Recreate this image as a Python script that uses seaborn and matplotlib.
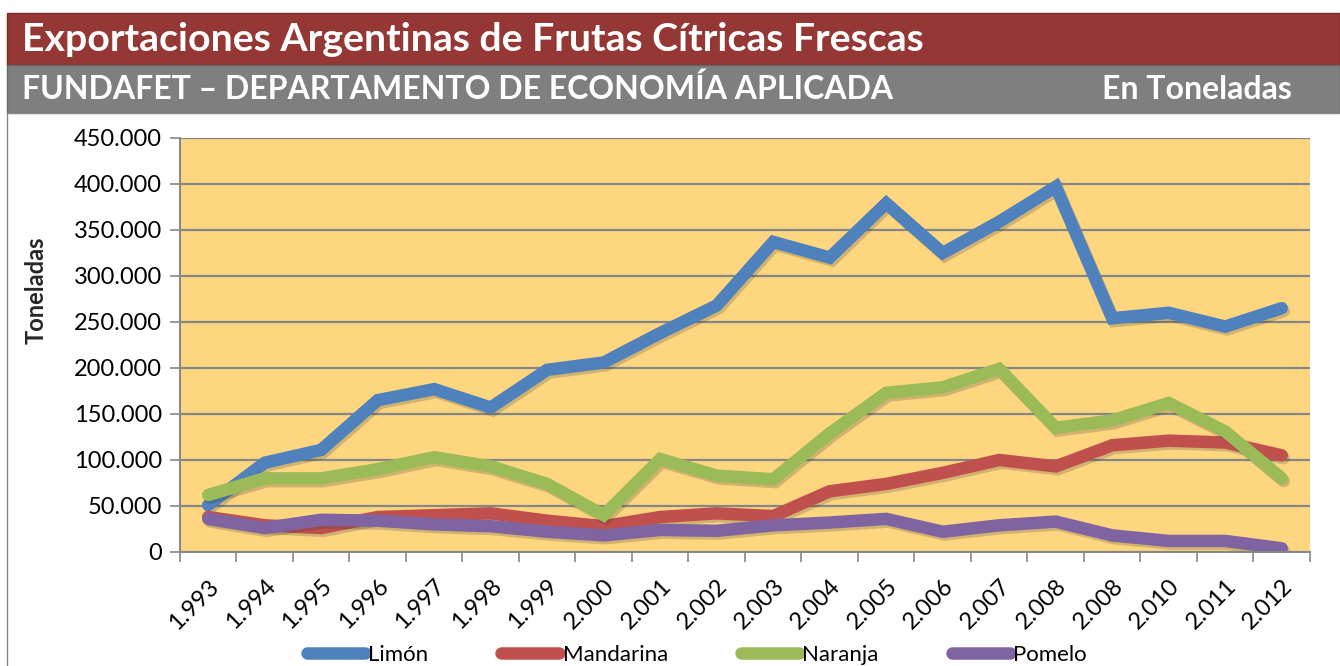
import pandas as pd
import seaborn as sns
import matplotlib.pyplot as plt
from matplotlib.lines import Line2D
from matplotlib.patches import Rectangle
from matplotlib.ticker import FuncFormatter, FixedLocator
import matplotlib.patheffects as pe

years = ['1.993', '1.994', '1.995', '1.996', '1.997', '1.998', '1.999', '2.000', '2.001', '2.002',
         '2.003', '2.004', '2.005', '2.006', '2.007', '2.008', '2.008', '2.010', '2.011', '2.012']
limon = [51000, 97000, 111000, 165000, 177000, 157000, 198000, 206000, 238000, 268000,
         337000, 320000, 379000, 325000, 359000, 397000, 254000, 260000, 245000, 265000]
mandarina = [38000, 29000, 26000, 38000, 40000, 42000, 34000, 28000, 38000, 42000,
             39000, 66000, 74000, 86000, 100000, 93000, 116000, 121000, 119000, 105000]
naranja = [62000, 80000, 80000, 90000, 103000, 93000, 74000, 40000, 101000, 83000,
           79000, 129000, 173000, 179000, 199000, 135000, 143000, 162000, 131000, 80000]
pomelo = [36000, 26000, 35000, 34000, 30000, 28000, 22000, 18000, 24000, 23000,
          29000, 32000, 36000, 22000, 29000, 33000, 18000, 12000, 12000, 4000]
series = ['Limón', 'Mandarina', 'Naranja', 'Pomelo']
colors = ['#4F81BD', '#C0504D', '#9BBB59', '#8064A2']

rows = []
for name, vals in zip(series, [limon, mandarina, naranja, pomelo]):
    for i, v in enumerate(vals):
        rows.append({'pos': i, 'fruta': name, 'ton': v})
df = pd.DataFrame(rows)

sns.set_style("white")
plt.rcParams['font.family'] = ['Lato', 'DejaVu Sans']
plt.rcParams['text.color'] = 'black'
plt.rcParams['xtick.labelcolor'] = 'black'
plt.rcParams['ytick.labelcolor'] = 'black'

fig = plt.figure(figsize=(13.4, 6.66), dpi=100)

# header bars and chart frame, kept behind the axes
fig.patches.append(Rectangle((0.0052, 0.9024), 0.995, 0.0781, transform=fig.transFigure,
                             facecolor='#953735', edgecolor='#7a2a28', lw=1, zorder=-10))
fig.patches.append(Rectangle((0.0052, 0.8303), 0.995, 0.0721, transform=fig.transFigure,
                             facecolor='#7F7F7F', edgecolor='#666666', lw=1, zorder=-10))
fig.patches.append(Rectangle((0.0052, -0.01), 1.0, 0.8403, transform=fig.transFigure,
                             facecolor='white', edgecolor='#888888', lw=1, zorder=-10))

fig.text(0.0164, 0.941, 'Exportaciones Argentinas de Frutas Cítricas Frescas', color='white',
         fontsize=28.3, fontweight='bold', va='center', ha='left')
fig.text(0.0164, 0.866, 'FUNDAFET – DEPARTAMENTO DE ECONOMÍA APLICADA', color='white',
         fontsize=23, fontweight='bold', va='center', ha='left')
fig.text(0.964, 0.866, 'En Toneladas', color='white',
         fontsize=23, fontweight='bold', va='center', ha='right')

ax = fig.add_axes([0.1343, 0.1712, 0.8433, 0.6216])
ax.set_facecolor('#FED680')

g = sns.lineplot(data=df, x='pos', y='ton', hue='fruta', palette=colors, sort=False,
                 legend=False, linewidth=9, ax=ax)
for line in ax.lines:
    line.set_solid_capstyle('round')
    line.set_solid_joinstyle('miter')
    line.set_path_effects([pe.SimpleLineShadow(offset=(1.5, -2), alpha=0.22, shadow_color='#333333'),
                           pe.Normal()])

ax.set_xlim(-0.5, 19.5)
ax.set_ylim(0, 450000)
ax.yaxis.set_major_locator(FixedLocator(range(0, 450001, 50000)))
ax.yaxis.set_major_formatter(FuncFormatter(lambda v, p: '0' if v == 0 else '{:,.0f}'.format(v).replace(',', '.')))
ax.grid(axis='y', color='#868686', lw=1.6)
ax.set_axisbelow(True)

ax.set_xticks([k - 0.5 for k in range(21)])
ax.set_xticklabels([])
ax.set_xticks(range(20), minor=True)
ax.set_xticklabels(years, minor=True, rotation=45, ha='right', rotation_mode='anchor', fontsize=17)
ax.tick_params(axis='x', which='major', direction='out', length=7, width=1.2, color='#868686', bottom=True)
ax.tick_params(axis='x', which='minor', length=0, pad=17)
ax.tick_params(axis='y', direction='out', length=7, width=1.2, color='#868686', left=True, labelsize=17, pad=6)

for s in ['top', 'right']:
    ax.spines[s].set_visible(False)
for s in ['left', 'bottom']:
    ax.spines[s].set_color('#868686')
    ax.spines[s].set_linewidth(1.4)

ax.set_xlabel('')
ax.set_ylabel('Toneladas', fontsize=17, fontweight='bold')
ax.yaxis.set_label_coords(-0.117, 0.633)

handles = [Line2D([0], [0], color=c, lw=9, solid_capstyle='round') for c in colors]
fig.legend(handles, series, loc='center', bbox_to_anchor=(0.52, 0.017), ncol=4, frameon=False,
           fontsize=16, handlelength=2.6, handletextpad=0.15, columnspacing=3.3)

plt.savefig('out.png', dpi=100)
